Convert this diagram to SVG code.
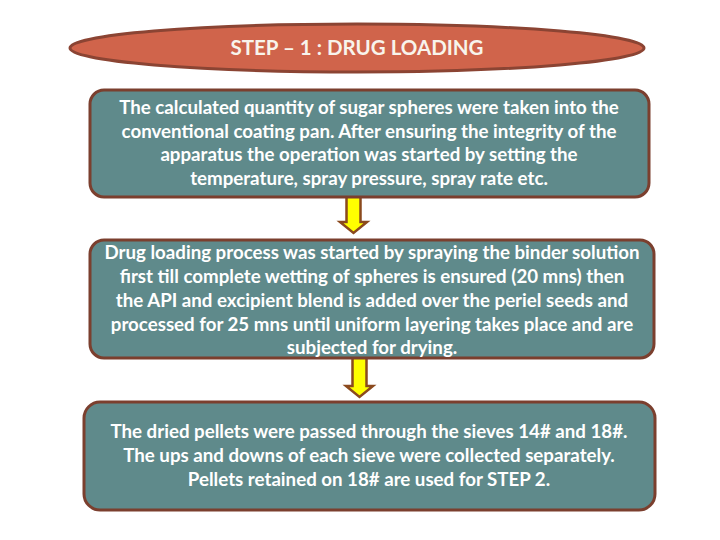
<svg xmlns="http://www.w3.org/2000/svg" width="720" height="540" viewBox="0 0 720 540">
<style>
.box{fill:#5F8A8B;stroke:#7B3F2E;stroke-width:3}
.t{font-family:Lato,"Open Sans","Liberation Sans",sans-serif;font-weight:bold;font-size:18.7px;fill:#FFFFFF;text-anchor:middle}
.arr{fill:#FFFF00;stroke:#8B4A1E;stroke-width:2.5;stroke-linejoin:miter}
</style>
<rect width="720" height="540" fill="#FFFFFF"/>
<g id="title">
<ellipse cx="357" cy="48" rx="287" ry="24" fill="#D0644B" stroke="#8B4433" stroke-width="3"/>
<text class="t" x="357" y="55" style="font-size:20.5px;fill:#F8F4EC">STEP – 1 : DRUG LOADING</text>
</g>
<g id="connectors">
<path class="arr" d="M346.5,194 H360.5 V222 H367 L353.5,233 L340,222 H346.5 Z"/>
<path class="arr" d="M352.5,356 H366.5 V386 H373 L359.5,397 L346,386 H352.5 Z"/>
</g>
<g id="box1">
<rect class="box" x="90" y="90" width="559" height="107" rx="14"/>
<text class="t" x="369" y="114">The calculated quantity of sugar spheres were taken into the</text>
<text class="t" x="369" y="138">conventional coating pan. After ensuring the integrity of the</text>
<text class="t" x="369" y="161">apparatus the operation was started by setting the</text>
<text class="t" x="369" y="185">temperature, spray pressure, spray rate etc.</text>
</g>
<g id="box2">
<rect class="box" x="90" y="240" width="564" height="118" rx="14"/>
<text class="t" x="372" y="259">Drug loading process was started by spraying the binder solution</text>
<text class="t" x="372" y="283">first till complete wetting of spheres is ensured (20 mns) then</text>
<text class="t" x="372" y="307">the API and excipient blend is added over the periel seeds and</text>
<text class="t" x="372" y="331">processed for 25 mns until uniform layering takes place and are</text>
<text class="t" x="372" y="354">subjected for drying.</text>
</g>
<g id="box3">
<rect class="box" x="84" y="402" width="571" height="108" rx="16"/>
<text class="t" x="369" y="438">The dried pellets were passed through the sieves 14# and 18#.</text>
<text class="t" x="369" y="462">The ups and downs of each sieve were collected separately.</text>
<text class="t" x="369" y="486">Pellets retained on 18# are used for  STEP 2.</text>
</g>
</svg>
